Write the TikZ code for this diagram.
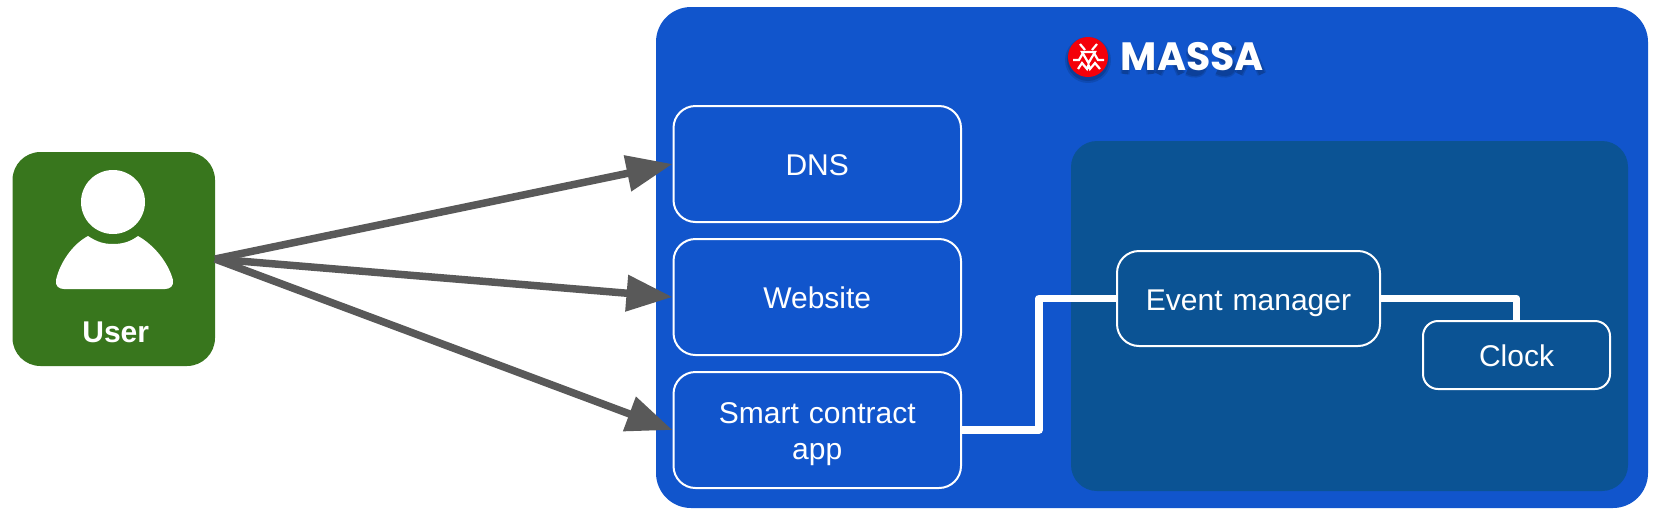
\documentclass[tikz,border=0pt]{standalone}
\usepackage{fontspec}
\usepackage{xcolor}
\setmainfont{Liberation Sans}
\newfontfamily\logofont{Poppins}
\usetikzlibrary{arrows.meta,positioning}
\definecolor{massablue}{HTML}{1155CC}
\definecolor{coreblue}{HTML}{0B5394}
\definecolor{usergreen}{HTML}{38761D}
\definecolor{arrowgray}{HTML}{595959}
\definecolor{logored}{HTML}{F40009}

\begin{document}
\begin{tikzpicture}[
    x=1pt, y=-1pt,
    panel/.style={rectangle, outer sep=0pt, inner sep=0pt},
    box/.style={rectangle, draw=white, line width=2pt, rounded corners=22pt, text=white, text width=287.5pt, text centered, text height=23.4pt, text depth=0pt, minimum height=116pt, inner sep=0pt, font=\fontsize{30}{36}\selectfont},
    smallbox/.style={box, text width=263pt, minimum height=95pt},
    arrow/.style={draw=arrowgray, line width=7.5pt, -{Triangle[length=46pt,width=35pt]}, arrowgray},
    wire/.style={draw=white, line width=7.5pt, line join=round}
]
\useasboundingbox (0,0) rectangle (1655,515);

% User
\node[panel, fill=usergreen, rounded corners=28pt, minimum width=202.5pt, minimum height=214pt] (user) at (113.75,259) {};
\fill[white] (113,202) circle (32);
\fill[white] (88,236) .. controls (97,242) and (104,244) .. (113,244) .. controls (122,244) and (130,242) .. (138,236)
    .. controls (154,245) and (168,262) .. (173,280) .. controls (174,286) and (170,289) .. (165,289)
    -- (64,289) .. controls (59,289) and (55,286) .. (56,280) .. controls (60,262) and (73,244) .. (88,236) -- cycle;
\node[inner sep=0pt, text=white, font=\fontsize{30}{36}\selectfont\bfseries, above=23pt of user.south, xshift=2pt] (userlabel) {User};

% Massa
\node[panel, fill=massablue, rounded corners=35pt, minimum width=992pt, minimum height=501pt] (massa) at (1152,257.5) {};
\node[panel, fill=coreblue, rounded corners=26pt, minimum width=557pt, minimum height=350pt, below left=134pt and 20pt of massa.north east] (core) {};

% Logo
\fill[black, opacity=.12] (1088,60) circle (23);
\fill[black, opacity=.15] (1088,60) circle (21);
\node[circle, fill=logored, minimum size=40pt, inner sep=0pt] (logo) at (1088,57) {};
\begin{scope}[shift={(logo.center)}, draw=white, line width=2.2pt]
\draw (-8,-13) -- (-3,-7);
\draw (9,-13) -- (4,-7);
\draw (-6,-5) -- (7,-5) -- (0.5,6) -- cycle;
\draw (-15,3) -- (-9,3) -- (-5,-4);
\draw (16,3) -- (10,3) -- (6,-4);
\draw (-10,12) -- (-6,6) -- (-1,12) -- (0.5,8) -- (2,12) -- (7,6) -- (12,12);
\end{scope}

% Shadow under the name
\begin{scope}[shift={(1125,74)}, draw=black, opacity=.13, line join=round]
\foreach \w in {9,6} {
\draw[line width=\w pt] (0,0) -- (3,-25) -- (13,-8) -- (23,-25) -- (26,0);
\draw[line width=\w pt] (33,0) -- (45,-25) -- (56,0);
\draw[line width=\w pt] (80,-23) .. controls (68,-29) and (60,-20) .. (70,-14) .. controls (84,-8) and (76,4) .. (62,-3);
\draw[line width=\w pt] (110,-23) .. controls (98,-29) and (90,-20) .. (100,-14) .. controls (114,-8) and (106,4) .. (92,-3);
\draw[line width=\w pt] (114,0) -- (126,-25) -- (137,0);
}
\end{scope}
\node[inner sep=0pt, text=white, font=\logofont\fontsize{39.5}{40}\selectfont\bfseries, anchor=center] (massaname) at (1192.5,57) {MASSA};

% Apps
\node[box, below right=98pt and 16.5pt of massa.north west] (dns) {DNS};
\node[box, below=15pt of dns] (website) {Website};
\node[box, text height=10pt, text depth=24pt, below=15pt of website] (smartapp) {Smart contract\\app};

% Core
\node[smallbox, below right=109pt and 45pt of core.north west] (eventmgr) {Event manager};
\node[box, text width=187pt, minimum height=68pt, rounded corners=15pt, below left=179pt and 17pt of core.north east] (clock) {Clock};

% Arrows
\draw[arrow] (user.east) -- (dns.west);
\draw[arrow] (user.east) -- (website.west);
\draw[arrow] (user.east) -- (smartapp.west);
\draw[wire] (smartapp.east) -- ++(77,0) |- (eventmgr.west);
\draw[wire] (eventmgr.east) -| (clock.north);

\end{tikzpicture}
\end{document}
